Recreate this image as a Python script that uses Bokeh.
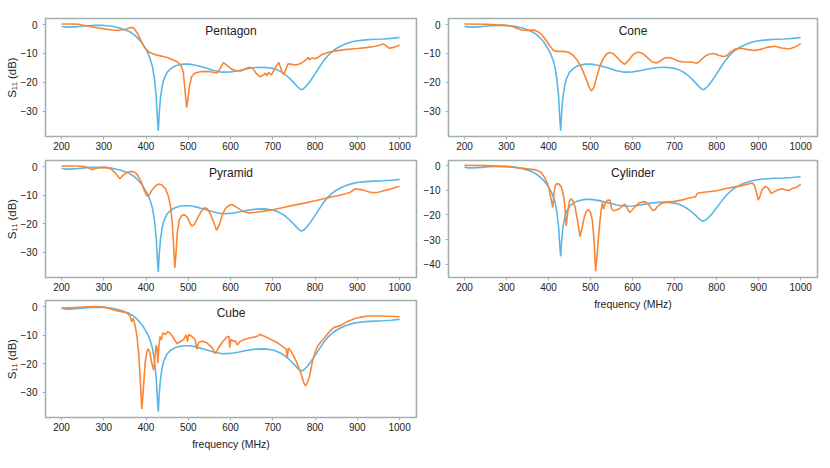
from bokeh.plotting import figure
from bokeh.layouts import row, column
from bokeh.models import Range1d, FixedTicker, Label
from bokeh.embed import file_html
from bokeh.resources import INLINE

# ---------------- data ----------------
X_TICKS = [200, 300, 400, 500, 600, 700, 800, 900, 1000]

# reference (simulated) curve, identical in every panel
sim_freq = [200, 210, 220, 240, 260, 280, 300, 320, 340, 360, 370, 380, 390, 400, 405,
            410, 415, 420, 424, 427, 429, 431, 434, 438, 442, 450, 460, 470, 480, 490,
            500, 510, 520, 540, 560, 580, 600, 620, 640, 660, 680, 700, 710, 720, 730,
            740, 750, 760, 765, 768, 772, 780, 790, 800, 810, 820, 830, 840, 850, 860,
            870, 880, 890, 900, 920, 940, 960, 980, 1000]
sim_s11 = [-0.6, -0.9, -0.9, -0.7, -0.4, -0.3, -0.3, -0.6, -1.3, -2.4, -3.3, -4.6, -6.3, -8.7, -10.1,
           -12.0, -14.5, -19.0, -25.0, -33.0, -36.8, -31.0, -25.5, -21.5, -19.0, -16.5, -15.1, -14.3, -13.9, -13.7,
           -13.7, -13.9, -14.2, -15.0, -15.9, -16.5, -16.4, -15.9, -15.3, -14.9, -14.8, -15.2, -15.7, -16.4, -17.4,
           -18.7, -20.2, -21.8, -22.4, -22.5, -22.3, -21.2, -19.3, -17.1, -14.8, -12.6, -10.8, -9.4, -8.3, -7.5,
           -6.8, -6.3, -5.9, -5.6, -5.3, -5.1, -5.0, -4.8, -4.5]

pentagon_freq = [200, 220, 240, 260, 280, 300, 320, 335, 350, 360, 367, 373, 380, 388, 395, 403,
                 410, 426, 450, 474, 483, 488, 492, 496, 499, 503, 508, 515, 530, 550, 565, 570,
                 576, 583, 590, 600, 612, 625, 635, 645, 652, 660, 670, 678, 682, 686, 690, 696,
                 704, 710, 714, 718, 722, 726, 730, 736, 745, 755, 766, 775, 781, 784, 787, 792,
                 800, 808, 815, 830, 845, 870, 900, 920, 940, 955, 961, 967, 975, 983, 992, 1000]
pentagon_s11 = [0.2, 0.2, 0.1, -0.5, -1.0, -1.5, -1.9, -2.0, -1.7, -1.2, -0.9, -1.6, -3.2, -5.6, -7.6, -8.9,
                -9.8, -10.6, -11.4, -12.9, -14.2, -16.5, -22.5, -28.8, -26.0, -21.0, -18.0, -16.9, -16.3, -16.3, -16.8, -16.6,
                -15.0, -13.2, -14.0, -15.2, -16.0, -16.1, -15.3, -14.8, -15.1, -16.8, -18.1, -17.5, -16.8, -17.8, -16.5, -17.5,
                -15.5, -14.0, -13.1, -14.8, -16.5, -17.4, -15.8, -13.6, -13.8, -14.0, -13.5, -12.6, -11.8, -11.4, -12.3, -11.6,
                -11.8, -11.3, -10.5, -9.7, -9.2, -8.7, -8.3, -8.0, -7.6, -7.1, -6.7, -7.2, -8.2, -8.0, -7.6, -7.2]

cone_freq = [200, 250, 290, 310, 320, 335, 350, 365, 375, 385, 395, 405, 412, 420, 435, 448,
             458, 468, 478, 488, 496, 502, 508, 514, 522, 530, 538, 546, 553, 562, 572, 581,
             590, 600, 608, 616, 624, 634, 646, 656, 666, 676, 686, 696, 708, 720, 740, 752,
             758, 766, 776, 786, 796, 806, 816, 824, 834, 846, 860, 875, 890, 905, 920, 938,
             955, 972, 985, 1000]
cone_s11 = [0.2, 0.1, -0.2, -0.5, -1.0, -1.9, -2.0, -1.9, -2.5, -3.7, -5.6, -7.8, -9.0, -9.3, -9.3, -9.6,
            -10.6, -12.3, -14.8, -18.3, -21.5, -23.0, -21.8, -18.5, -14.5, -11.8, -10.2, -9.7, -10.0, -11.2, -12.8, -13.8,
            -12.5, -10.6, -9.8, -9.6, -10.0, -11.3, -12.9, -13.3, -12.6, -11.6, -11.4, -11.8, -12.6, -13.0, -13.0, -13.4,
            -13.0, -11.8, -10.6, -10.1, -10.1, -10.7, -11.1, -10.8, -9.4, -8.4, -8.2, -8.7, -9.0, -8.6, -7.9, -7.5,
            -8.1, -8.5, -7.9, -6.6]

pyramid_freq = [200, 230, 255, 265, 272, 280, 290, 305, 318, 328, 338, 346, 355, 365, 373, 380,
                388, 396, 402, 408, 415, 422, 430, 438, 446, 453, 458, 462, 465, 468, 471, 474,
                478, 484, 490, 497, 503, 508, 514, 522, 530, 538, 545, 553, 560, 567, 573, 580,
                588, 596, 603, 612, 622, 632, 645, 660, 680, 700, 725, 750, 775, 800, 825, 850,
                870, 882, 890, 896, 905, 915, 928, 940, 950, 962, 975, 988, 1000]
pyramid_s11 = [0.2, 0.2, 0.0, -0.5, -1.1, -0.7, -0.4, -0.3, -0.9, -2.4, -4.3, -3.0, -2.0, -1.7, -2.0, -3.0,
               -5.2, -8.5, -10.3, -9.8, -8.0, -6.8, -6.1, -6.5, -7.8, -10.5, -14.0, -20.0, -27.0, -35.5, -30.0, -23.0,
               -19.0, -17.2, -16.8, -17.6, -19.5, -20.8, -20.3, -18.0, -15.8, -14.4, -14.8, -16.8, -19.5, -22.3, -20.5, -17.0,
               -14.6, -13.6, -13.3, -14.0, -15.0, -15.8, -16.2, -16.0, -15.6, -15.1, -14.3, -13.5, -12.8, -12.0, -11.1, -10.3,
               -9.6, -9.1, -8.3, -7.8, -8.0, -8.3, -8.9, -9.2, -9.0, -8.5, -8.0, -7.4, -6.9]

cylinder_freq = [200, 250, 300, 340, 370, 382, 390, 397, 402, 406, 410, 413, 416, 420, 425, 430,
                 435, 438, 442, 446, 450, 454, 459, 464, 469, 475, 480, 485, 490, 495, 500, 504,
                 508, 512, 515, 518, 522, 525, 528, 531, 535, 540, 546, 550, 555, 562, 570, 576,
                 582, 588, 593, 599, 605, 615, 625, 632, 640, 648, 653, 660, 670, 680, 700, 716,
                 732, 750, 754, 765, 780, 800, 820, 850, 870, 885, 890, 895, 899, 903, 908, 915,
                 922, 930, 937, 945, 955, 963, 972, 980, 990, 1000]
cylinder_s11 = [0.2, 0.0, -0.4, -1.1, -1.7, -2.7, -4.6, -7.0, -10.0, -13.5, -17.0, -11.5, -8.0, -7.3, -7.5, -8.5,
                -11.5, -15.0, -24.5, -18.5, -14.3, -13.4, -14.5, -17.5, -22.4, -28.8, -25.0, -21.0, -18.5, -17.8, -19.0, -22.0,
                -29.2, -42.8, -37.0, -31.0, -23.0, -18.5, -15.0, -17.6, -15.2, -14.1, -13.9, -17.5, -18.3, -18.0, -17.3, -16.1,
                -15.6, -17.5, -19.0, -18.0, -16.9, -15.2, -14.6, -14.8, -16.3, -18.2, -18.0, -16.4, -15.2, -14.8, -14.5, -14.0,
                -13.2, -12.6, -11.2, -10.9, -10.6, -10.2, -9.4, -8.4, -7.7, -7.0, -8.0, -11.0, -14.0, -12.5, -9.8, -8.5,
                -9.0, -11.2, -10.6, -9.9, -9.4, -9.8, -10.1, -9.3, -8.8, -7.6]

cube_freq = [200, 230, 260, 280, 300, 315, 325, 340, 355, 362, 366, 369, 374, 379, 383, 386,
             390, 394, 398, 402, 405, 409, 413, 418, 421, 424, 426, 428, 430, 433, 436, 440,
             446, 451, 457, 465, 473, 480, 489, 495, 498, 501, 508, 516, 520, 524, 532, 544,
             556, 564, 571, 580, 590, 596, 598, 601, 606, 612, 616, 622, 632, 648, 660, 670,
             680, 695, 711, 727, 732, 734, 737, 743, 755, 767, 773, 777, 782, 787, 794, 800,
             806, 814, 822, 834, 845, 861, 877, 893, 909, 925, 950, 975, 1000]
cube_s11 = [-0.5, -0.4, -0.1, 0.0, -0.2, -0.8, -1.3, -1.7, -2.3, -3.3, -5.3, -4.1, -6.5, -11.0, -17.5, -25.0,
            -35.8, -28.0, -19.5, -15.8, -14.8, -16.0, -19.5, -22.3, -17.5, -13.5, -14.5, -19.8, -14.5, -10.5, -11.6, -9.2,
            -9.8, -8.8, -9.3, -11.0, -13.0, -12.4, -11.5, -9.9, -12.3, -9.8, -10.4, -11.5, -15.0, -12.7, -12.1, -12.7,
            -14.4, -16.5, -14.6, -12.5, -10.8, -10.4, -14.4, -11.5, -12.1, -12.1, -13.5, -12.3, -11.5, -10.9, -10.6, -9.8,
            -10.4, -11.5, -12.7, -14.4, -15.0, -18.0, -14.5, -15.6, -19.0, -23.6, -26.5, -27.7, -26.5, -24.3, -19.0, -16.0,
            -13.8, -12.3, -11.0, -8.7, -7.3, -6.6, -5.2, -4.3, -3.7, -3.3, -3.3, -3.4, -3.6]

# ---------------- style ----------------
FONT = "Liberation Sans"
BLUE = "#58b7e7"
ORANGE = "#fb8535"
X_RANGE = (162, 1040)


def panel(title, freq, s11, w, h, bl, br, bt, bb, yrange, yticks, ylabel=None, xlabel=None):
    p = figure(width=w, height=h, output_backend="svg", toolbar_location=None,
               x_range=Range1d(*X_RANGE), y_range=Range1d(*yrange),
               min_border_left=bl, min_border_right=br, min_border_top=bt, min_border_bottom=bb)
    p.line(sim_freq, sim_s11, line_color=BLUE, line_width=1.6)
    p.line(freq, s11, line_color=ORANGE, line_width=1.6)
    p.xaxis.ticker = FixedTicker(ticks=X_TICKS)
    p.yaxis.ticker = FixedTicker(ticks=yticks)
    for ax in p.axis:
        ax.axis_line_color = None
        ax.major_tick_line_color = "#b0b0b0"
        ax.major_tick_out = 3
        ax.major_tick_in = 0
        ax.minor_tick_line_color = None
        ax.major_label_text_font = FONT
        ax.major_label_text_font_size = "10px"
        ax.major_label_text_color = "#222222"
        ax.axis_label_text_font = FONT
        ax.axis_label_text_font_size = "10.5px"
        ax.axis_label_text_font_style = "normal"
        ax.axis_label_text_color = "#222222"
    p.xaxis.major_label_standoff = 2
    p.yaxis.major_label_standoff = 5
    if ylabel:
        p.yaxis.axis_label = ylabel
        p.yaxis.axis_label_text_font_size = "11.5px"
        p.yaxis.axis_label_standoff = 0
    if xlabel:
        p.xaxis.axis_label = xlabel
        p.xaxis.axis_label_standoff = 4
    p.grid.visible = False
    p.outline_line_color = "#a2b0ad"
    p.outline_line_width = 1.6
    p.add_layout(Label(x=(X_RANGE[0] + X_RANGE[1]) / 2, y=yrange[1], text=title,
                       text_align="center", text_baseline="top", y_offset=-5,
                       text_font=FONT, text_font_size="12px", text_color="#222222"))
    return p


YR = (-38.8, 2.1)
YT = [-30, -20, -10, 0]
YLAB = "S\u2081\u2081 (dB)"
XLAB = "frequency (MHz)"

p1 = panel("Pentagon", pentagon_freq, pentagon_s11, 420, 152, 45, 4, 18, 16, YR, YT, ylabel=YLAB)
p3 = panel("Pyramid", pyramid_freq, pyramid_s11, 420, 141, 45, 4, 8, 16, YR, YT, ylabel=YLAB)
p5 = panel("Cube", cube_freq, cube_s11, 420, 167, 45, 4, 7, 43, YR, YT, ylabel=YLAB, xlabel=XLAB)
p2 = panel("Cone", cone_freq, cone_s11, 402, 152, 27, 5, 18, 16, YR, YT)
p4 = panel("Cylinder", cylinder_freq, cylinder_s11, 402, 160, 27, 5, 8, 35, (-45.4, 2.1),
           [-40, -30, -20, -10, 0], xlabel=XLAB)

layout = row(column(p1, p3, p5), column(p2, p4))

open("out.html", "w").write(file_html(layout, INLINE))
